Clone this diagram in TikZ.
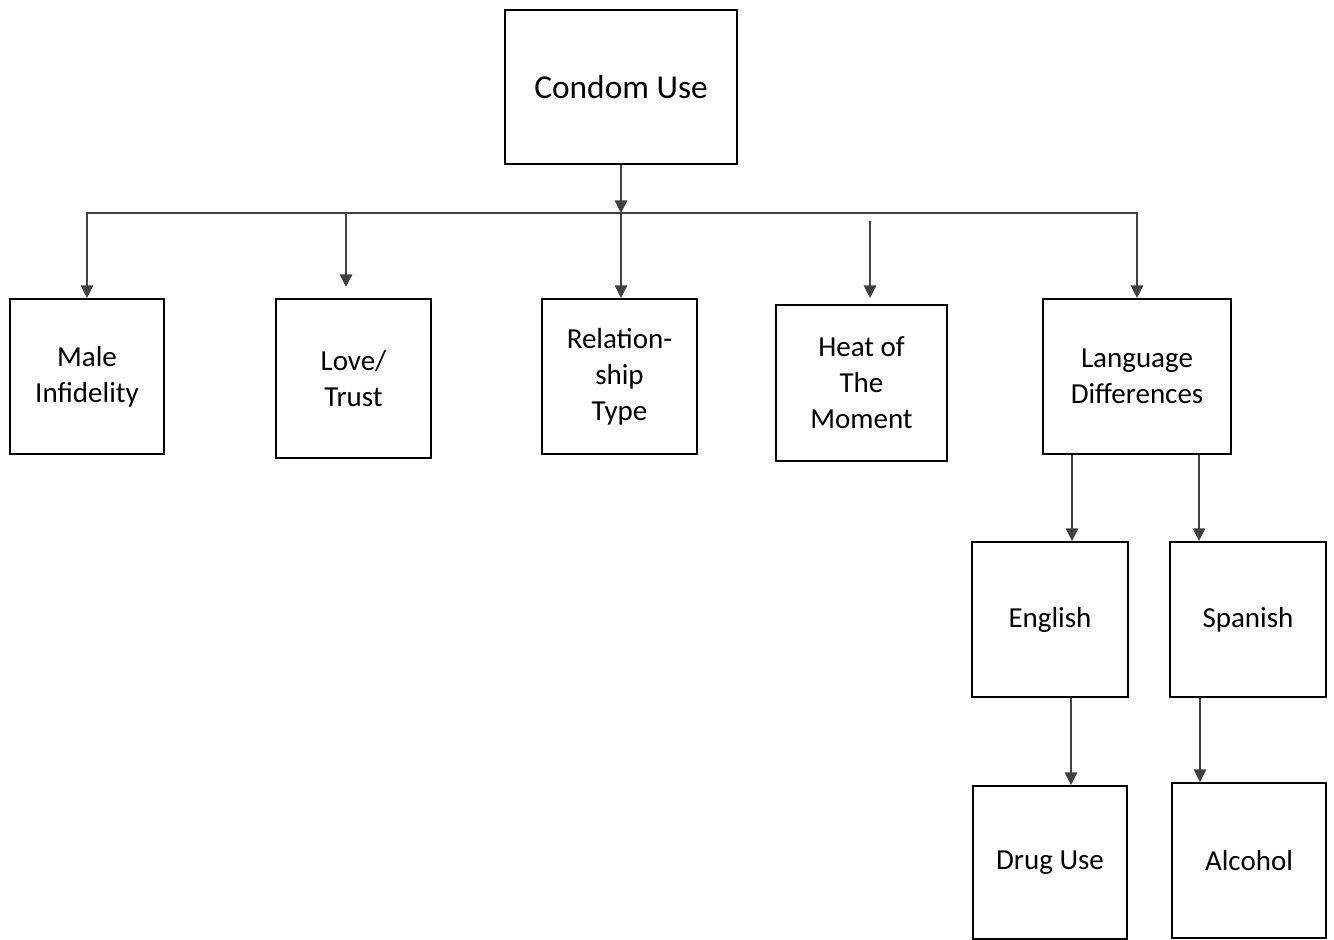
\documentclass[tikz,border=0pt]{standalone}
\usepackage{fontspec}
\setmainfont{Carlito}
\usetikzlibrary{arrows.meta,positioning}

\begin{document}
\begin{tikzpicture}[>={Triangle[width=0.25cm,length=0.25cm]},
                    block/.style={rectangle, draw, line width=1.2pt, align=center,
                                  font=\fontsize{16.5}{20.5}\selectfont, inner sep=0pt},
                    link/.style={->, draw=black!75, line width=0.8pt}]
  \useasboundingbox (0,0) rectangle (26.68,18.78);

  % Nodes
  \node[block, minimum width=4.64cm, minimum height=3.08cm,
        font=\fontsize{19}{23}\selectfont] (use) at (12.42,17.04) {Condom Use};
  \node[block, minimum width=3.08cm, minimum height=3.10cm] (male) at (1.74,11.25) {Male\\Infidelity};
  \node[block, minimum width=3.10cm, minimum height=3.18cm] (love) at (7.07,11.21) {Love/\\Trust};
  \node[block, minimum width=3.10cm, minimum height=3.10cm] (rel) at (12.39,11.25) {Relation-\\ship\\Type};
  \node[block, minimum width=3.42cm, minimum height=3.12cm] (heat) at (17.23,11.12) {Heat of\\The\\Moment};
  \node[block, minimum width=3.76cm, minimum height=3.10cm] (lang) at (22.74,11.25) {Language\\Differences};
  \node[block, minimum width=3.12cm, minimum height=3.10cm] (eng) at (21.00,6.39) {English};
  \node[block, minimum width=3.12cm, minimum height=3.10cm] (spa) at (24.96,6.39) {Spanish};
  \node[block, minimum width=3.08cm, minimum height=3.06cm] (drug) at (21.00,1.53) {Drug Use};
  \node[block, minimum width=3.08cm, minimum height=3.10cm] (alc) at (24.98,1.57) {Alcohol};

  \coordinate (bus) at (12.42,14.52);
  \coordinate (lovetop) at ([xshift=-0.15cm,yshift=0.22cm]love.north);
  \coordinate (heattop) at ([xshift=0.17cm,yshift=0.12cm]heat.north);
  \coordinate (lovestart) at (lovetop |- bus);
  \coordinate (heatstart) at (heattop |- bus);
  \coordinate (engtop) at ([xshift=0.44cm]eng.north);
  \coordinate (spatop) at ([xshift=-0.98cm]spa.north);
  \coordinate (engstart) at (engtop |- lang.south);
  \coordinate (spastart) at (spatop |- lang.south);

  % Edges
  \draw[link] (use) -- (bus);
  \draw[link] (bus) -| (male);
  \draw[link] (bus) -| (lang);
  \draw[link] (bus) -- (bus |- rel.north);
  \draw[link] (lovestart) -- (lovetop);
  \draw[link] ([yshift=-0.16cm]heatstart) -- (heattop);
  \draw[link] (engstart) -- (engtop);
  \draw[link] (spastart) -- (spatop);
  \draw[link] ([xshift=0.42cm]eng.south) -- ([xshift=0.42cm]drug.north);
  \draw[link] ([xshift=-0.96cm]spa.south) -- ([xshift=-0.98cm]alc.north);
\end{tikzpicture}
\end{document}
